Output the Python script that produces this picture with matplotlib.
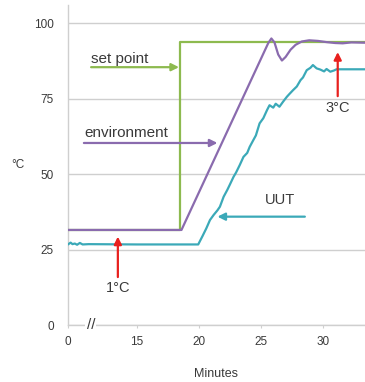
import numpy as np
import matplotlib
matplotlib.use("Agg")
import matplotlib.pyplot as plt

plt.rcParams['font.family'] = ['Liberation Sans', 'DejaVu Sans']

# time in minutes, temperature in deg C
setpoint_t = [0, 18.47, 18.47, 33.4]
setpoint_v = [31.5, 31.5, 93.7, 93.7]

env_t = [0, 18.6, 25.6, 25.85, 26.1, 26.4, 26.7, 27.0, 27.4, 27.8, 28.3,
         28.9, 29.6, 30.3, 31.0, 31.6, 32.3, 33.4]
env_v = [31.5, 31.5, 93.4, 94.9, 93.6, 89.6, 87.6, 88.8, 91.2, 92.8, 93.9,
         94.3, 94.1, 93.7, 93.4, 93.3, 93.6, 93.5]

uut_t = [0, 0.6, 1.0, 1.5, 2.0, 2.6, 3.2, 4.5, 15, 19.95, 20.3, 20.6, 20.9,
         21.2, 21.5, 21.7, 22.0, 22.3, 22.5, 22.8, 23.0, 23.3, 23.6, 23.9,
         24.1, 24.4, 24.6, 24.9, 25.2, 25.5, 25.7, 26.0, 26.2, 26.5, 26.8,
         27.1, 27.3, 27.6, 27.9, 28.2, 28.4, 28.7, 29.0, 29.2, 29.5, 29.8,
         30.1, 30.3, 30.6, 30.9, 31.1, 31.4, 31.7, 33.4]
uut_v = [26.7, 27.3, 26.8, 27.0, 26.6, 27.2, 26.7, 26.8, 26.7, 26.7, 29.5, 32.0, 34.8,
         36.5, 38.0, 39.2, 42.5, 44.8, 46.5, 49.1, 50.5, 53.0, 55.7, 57.0,
         59.0, 61.3, 62.8, 66.8, 68.5, 71.2, 72.8, 72.0, 73.3, 72.3, 74.0,
         75.6, 76.5, 77.8, 79.0, 81.1, 82.0, 84.4, 85.2, 86.1, 85.0, 84.6,
         84.0, 84.8, 83.9, 84.3, 84.7, 84.7, 84.7, 84.7]

x_ticks = [0, 15, 20, 25, 30]
y_ticks = [0, 25, 50, 75, 100]

green = '#8dba4f'
purple = '#8a6bae'
teal = '#3ba9b8'
red = '#e8201e'
grid_c = '#cfcfcf'
text_c = '#3a3a3a'


# broken x axis: 0..15 squeezed into a short stretch
def fwd(t):
    t = np.asarray(t, dtype=float)
    return np.where(t < 15, 9.44 + t * 5.56 / 15, t)


def inv(u):
    u = np.asarray(u, dtype=float)
    return np.where(u < 15, (u - 9.44) * 15 / 5.56, u)


fig = plt.figure(figsize=(3.65, 3.82), dpi=100)
ax = fig.add_axes([0.186, 0.149, 0.814, 0.838])
ax.set_xscale('function', functions=(fwd, inv))
ax.set_xlim(0, 33.4)
ax.set_ylim(0, 106)

ax.set_yticks(y_ticks)
ax.set_xticks(x_ticks)
ax.yaxis.grid(True, color=grid_c, linewidth=1.0)
ax.set_axisbelow(True)
for s in ['top', 'right']:
    ax.spines[s].set_visible(False)
for s in ['left', 'bottom']:
    ax.spines[s].set_color(grid_c)
    ax.spines[s].set_linewidth(1.0)
ax.tick_params(axis='y', length=0, pad=10, labelsize=8.5, labelcolor=text_c)
ax.tick_params(axis='x', length=2, color=grid_c, pad=6, labelsize=8.5, labelcolor=text_c)

ax.plot(setpoint_t, setpoint_v, color=green, lw=1.6, zorder=3)
ax.plot(uut_t, uut_v, color=teal, lw=1.6, zorder=4)
ax.plot(env_t, env_v, color=purple, lw=1.6, zorder=5)

ax.set_xlabel('Minutes', fontsize=9, color=text_c, labelpad=14)
ax.set_ylabel('°C', fontsize=8.5, color=text_c, rotation=0, labelpad=12, va='center')

# axis break mark
ax.text(5.0, 0, '//', fontsize=11, color=text_c, ha='center', va='center',
        bbox=dict(facecolor='white', edgecolor='none', pad=1), clip_on=False, zorder=6)


def arrow(x0, y0, x1, y1, c):
    ax.annotate('', xy=(x1, y1), xytext=(x0, y0),
                arrowprops=dict(arrowstyle='-|>', color=c, lw=1.6,
                                mutation_scale=11, shrinkA=0, shrinkB=0),
                zorder=7)


arrow(5.05, 85.4, 18.4, 85.4, green)
ax.text(5.05, 88.2, 'set point', fontsize=11, color=text_c, va='center', ha='left')

arrow(3.48, 60.3, 21.5, 60.3, purple)
ax.text(3.48, 63.6, 'environment', fontsize=11, color=text_c, va='center', ha='left')

arrow(28.55, 35.9, 21.5, 35.9, teal)
ax.text(26.53, 41.4, 'UUT', fontsize=10.5, color=text_c, va='center', ha='center')

arrow(10.87, 15.9, 10.87, 29.3, red)
ax.text(10.87, 12.4, '1°C', fontsize=10.5, color=text_c, va='center', ha='center')

arrow(31.2, 75.8, 31.2, 90.4, red)
ax.text(31.2, 71.9, '3°C', fontsize=10.5, color=text_c, va='center', ha='center')

fig.savefig('out.png', dpi=100)
